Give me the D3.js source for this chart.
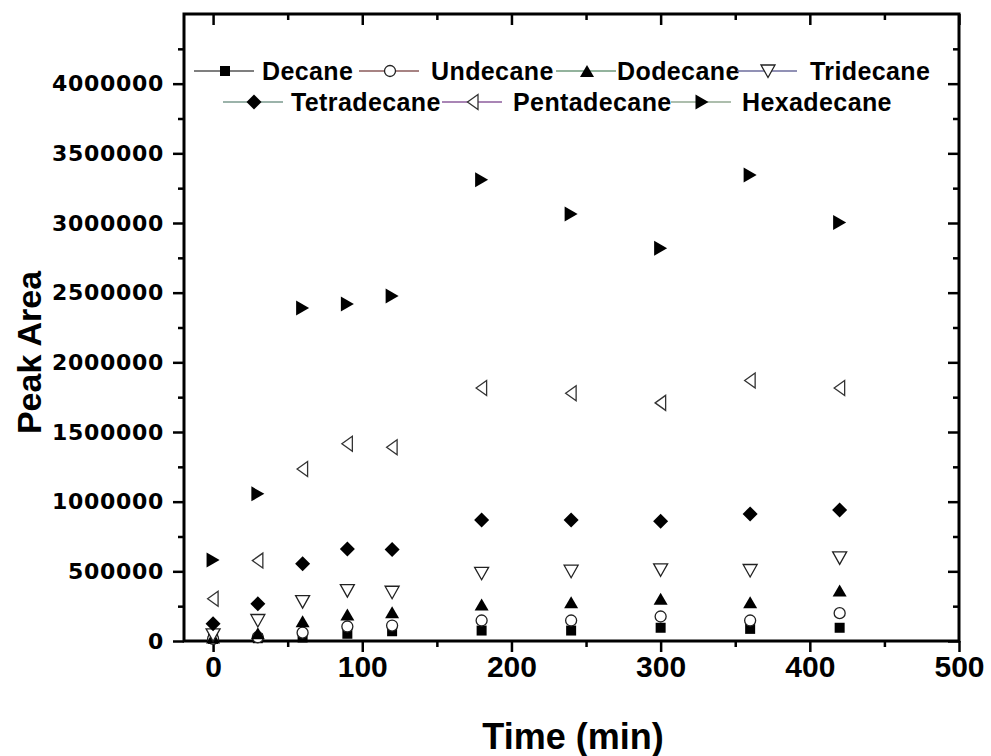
<!DOCTYPE html>
<html><head><meta charset="utf-8">
<script src="https://cdn.jsdelivr.net/npm/d3@7"></script>
<style>
html,body{margin:0;padding:0;background:#fff;}
svg{display:block;}
</style></head>
<body>
<svg id="chart" width="991" height="756"></svg>
<script>
// ---------- data ----------
const times = [0, 30, 60, 90, 120, 180, 240, 300, 360, 420];
const decane      = [15000, 20000, 25000, 52000, 70000, 75000, 75000, 95000, 87000, 95000];
const undecane    = [15000, 27000, 60000, 104000, 111000, 147000, 147000, 176000, 147000, 200000];
const dodecane    = [25000, 55000, 142000, 190000, 207000, 262000, 278000, 303000, 278000, 362000];
const tridecane   = [44000, 147000, 283000, 362000, 350000, 486000, 501000, 511000, 506000, 597000];
const tetradecane = [123000, 267000, 554000, 661000, 656000, 869000, 869000, 859000, 912000, 941000];
const pentadecane = [303000, 577000, 1235000, 1415000, 1390000, 1816000, 1778000, 1709000, 1869000, 1816000];
const hexadecane  = [582000, 1056000, 2390000, 2419000, 2476000, 3311000, 3065000, 2818000, 3344000, 3004000];
const seriesNames = ["Decane", "Undecane", "Dodecane", "Tridecane", "Tetradecane", "Pentadecane", "Hexadecane"];
const xTickLabels = [0, 100, 200, 300, 400, 500];
const yTickLabels = [0, 500000, 1000000, 1500000, 2000000, 2500000, 3000000, 3500000, 4000000];

// ---------- layout ----------
const svg = d3.select("#chart");
const L = 184, R = 959, T = 14, B = 641;
const x = d3.scaleLinear().domain([-19.5, 500]).range([L, R]);
const y = d3.scaleLinear().domain([0, 4500000]).range([B, T]);

// custom marker shapes (bbox-centred)
function poly(pts){ return {draw(ctx, size){ const s = Math.sqrt(size)/10; ctx.moveTo(pts[0][0]*s, pts[0][1]*s); for(let i=1;i<pts.length;i++) ctx.lineTo(pts[i][0]*s, pts[i][1]*s); ctx.closePath(); }}; }
const shapes = {
  square: poly([[-5,-5],[5,-5],[5,5],[-5,5]]),
  circle: {draw(ctx,size){ const r = 5.5*Math.sqrt(size)/10; ctx.moveTo(r,0); ctx.arc(0,0,r,0,2*Math.PI); }},
  up:     poly([[0,-6],[7,6],[-7,6]]),
  down:   poly([[0,6.5],[7,-6],[-7,-6]]),
  diamond:poly([[0,-7.5],[7.5,0],[0,7.5],[-7.5,0]]),
  left:   poly([[-5.5,0],[5,-7.5],[5,7.5]]),
  right:  poly([[6.5,0],[-6.5,-7.5],[-6.5,7.5]])
};
const seriesValues = [decane, undecane, dodecane, tridecane, tetradecane, pentadecane, hexadecane];
const styles = [
  {shape:"square",  fill:"#000", stroke:"none", line:"#555555"},
  {shape:"circle",  fill:"#fff", stroke:"#222", line:"#8a5a5a"},
  {shape:"up",      fill:"#000", stroke:"none", line:"#6f9a7c"},
  {shape:"down",    fill:"#fff", stroke:"#222", line:"#6d6d9c"},
  {shape:"diamond", fill:"#000", stroke:"none", line:"#7a9a8e"},
  {shape:"left",    fill:"#fff", stroke:"#333", line:"#8c5c9c"},
  {shape:"right",   fill:"#000", stroke:"none", line:"#92a892"}
];
const sym = d3.symbol().size(100);

// ---------- axes ----------
const majorLen = 11, minorLen = 6;
const yMinor = d3.range(250000, 4500001, 500000);
const xMinor = d3.range(50, 500, 100);

function styleAxis(g){
  g.select(".domain").remove();
  g.selectAll(".tick line").attr("stroke","#000").attr("stroke-width",2.5);
}
// left
svg.append("g").attr("transform",`translate(${L},0)`)
  .call(d3.axisLeft(y).tickValues(yTickLabels).tickSize(majorLen).tickPadding(9).tickFormat(d3.format("d")))
  .call(styleAxis)
  .call(g=>g.selectAll("text").attr("font-family","'DejaVu Sans', sans-serif").attr("font-weight","bold").attr("font-size","22px").attr("letter-spacing","0.7px").attr("fill","#000"));
svg.append("g").attr("transform",`translate(${L},0)`)
  .call(d3.axisLeft(y).tickValues(yMinor).tickSize(minorLen).tickFormat(""))
  .call(styleAxis);
// right (inward)
svg.append("g").attr("transform",`translate(${R},0)`)
  .call(d3.axisLeft(y).tickValues(yTickLabels).tickSize(majorLen).tickFormat(""))
  .call(styleAxis);
svg.append("g").attr("transform",`translate(${R},0)`)
  .call(d3.axisLeft(y).tickValues(yMinor).tickSize(minorLen).tickFormat(""))
  .call(styleAxis);
// bottom
svg.append("g").attr("transform",`translate(0,${B})`)
  .call(d3.axisBottom(x).tickValues(xTickLabels).tickSize(majorLen).tickPadding(4).tickFormat(d3.format("d")))
  .call(styleAxis)
  .call(g=>g.selectAll("text").attr("font-family","'Liberation Sans', Arial, sans-serif").attr("font-weight","bold").attr("font-size","30px").attr("fill","#000"));
svg.append("g").attr("transform",`translate(0,${B})`)
  .call(d3.axisBottom(x).tickValues(xMinor).tickSize(minorLen).tickFormat(""))
  .call(styleAxis);
// top (inward)
svg.append("g").attr("transform",`translate(0,${T})`)
  .call(d3.axisBottom(x).tickValues(xTickLabels).tickSize(majorLen).tickFormat(""))
  .call(styleAxis);
svg.append("g").attr("transform",`translate(0,${T})`)
  .call(d3.axisBottom(x).tickValues(xMinor).tickSize(minorLen).tickFormat(""))
  .call(styleAxis);

// frame
svg.append("rect").attr("x",L).attr("y",T).attr("width",R-L).attr("height",B-T)
  .attr("fill","none").attr("stroke","#000").attr("stroke-width",3);

// axis titles
svg.append("text").attr("transform",`translate(41,${(T+B)/2+25}) rotate(-90)`)
  .attr("text-anchor","middle").attr("font-family","'Liberation Sans', Arial, sans-serif")
  .attr("font-weight","bold").attr("font-size","34px").text("Peak Area");
svg.append("text").attr("x",573).attr("y",749)
  .attr("text-anchor","middle").attr("font-family","'Liberation Sans', Arial, sans-serif")
  .attr("font-weight","bold").attr("font-size","36px").text("Time (min)");

// ---------- points ----------
const pts = svg.append("g");
seriesValues.forEach((vals, si)=>{
  const st = styles[si];
  pts.append("g").selectAll("path").data(times.map((t,i)=>({t, v:vals[i]})))
    .join("path")
    .attr("transform", d=>`translate(${x(d.t)},${y(d.v)})`)
    .attr("d", sym.type(shapes[st.shape]))
    .attr("fill", st.fill).attr("stroke", st.stroke).attr("stroke-width", 1.3);
});

// ---------- legend ----------
const legendRows = [71, 102];
const legendLayout = [
  {row:0, m:225, tx:262}, {row:0, m:390, tx:431}, {row:0, m:587, tx:617}, {row:0, m:768, tx:810},
  {row:1, m:254, tx:291}, {row:1, m:473, tx:513}, {row:1, m:702, tx:742}
];
const lg = svg.append("g");
seriesNames.forEach((name, i)=>{
  const p = legendLayout[i], yy = legendRows[p.row], st = styles[i];
  lg.append("line").attr("x1",p.m-31).attr("x2",p.m+29).attr("y1",yy).attr("y2",yy)
    .attr("stroke",st.line).attr("stroke-width",1.5);
  lg.append("path").attr("transform",`translate(${p.m},${yy})`).attr("d", sym.type(shapes[st.shape]))
    .attr("fill",st.fill).attr("stroke",st.stroke).attr("stroke-width",1.3);
  lg.append("text").attr("x",p.tx).attr("y",yy+9).attr("font-family","'Liberation Sans', Arial, sans-serif")
    .attr("font-weight","bold").attr("font-size","25px").attr("letter-spacing","0.4px").text(name);
});
</script>
</body></html>
